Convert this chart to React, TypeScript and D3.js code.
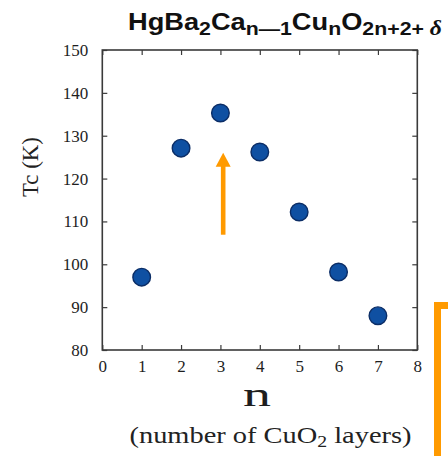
import { useRef, useEffect } from "react";
import * as d3 from "d3";

// number of CuO2 layers
const layers = [1, 2, 3, 4, 5, 6, 7];
// Tc in kelvin
const tcValues = [97, 127.1, 135.3, 126.2, 112.2, 98.2, 88];

const xTicks = [0, 1, 2, 3, 4, 5, 6, 7, 8];
const yTicks = [80, 90, 100, 110, 120, 130, 140, 150];

// arrow pointing at the optimum (n = 3)
const arrowN = 3.07;
const arrowFrom = 106.9;
const arrowTo = 126;

const App = () => {
    const svgRef = useRef(null);

    useEffect(() => {
        const width = 448;
        const height = 456;

        const svg = d3.select(svgRef.current);
        svg.selectAll("*").remove();
        svg.attr("width", width).attr("height", height);

        const x = d3.scaleLinear().domain([0, 8]).range([102.3, 417.3]);
        const y = d3.scaleLinear().domain([80, 150]).range([350, 50]);

        const axisColor = "#3a3a3a";
        const serif = "'Liberation Serif', 'Times New Roman', serif";

        const styleAxis = (g) => {
            g.select(".domain").remove();
            g.selectAll("line").attr("stroke", axisColor).attr("stroke-width", 1.2);
            g.selectAll("text")
                .attr("fill", "#1e1e1e")
                .style("font-family", serif)
                .style("font-size", "17px");
        };

        // frame
        svg.append("rect")
            .attr("x", x(0))
            .attr("y", y(150))
            .attr("width", x(8) - x(0))
            .attr("height", y(80) - y(150))
            .attr("fill", "none")
            .attr("stroke", axisColor)
            .attr("stroke-width", 1.6);

        svg.append("g")
            .attr("transform", `translate(0,${y(80)})`)
            .call(d3.axisBottom(x).tickValues(xTicks).tickSizeInner(-5).tickSizeOuter(0).tickPadding(10))
            .call(styleAxis);

        svg.append("g")
            .attr("transform", `translate(0,${y(150)})`)
            .call(d3.axisTop(x).tickValues(xTicks).tickSizeInner(-5).tickSizeOuter(0).tickFormat(() => ""))
            .call(styleAxis);

        svg.append("g")
            .attr("transform", `translate(${x(0)},0)`)
            .call(d3.axisLeft(y).tickValues(yTicks).tickSizeInner(-5).tickSizeOuter(0).tickPadding(14))
            .call(styleAxis);

        svg.append("g")
            .attr("transform", `translate(${x(8)},0)`)
            .call(d3.axisRight(y).tickValues(yTicks).tickSizeInner(-5).tickSizeOuter(0).tickFormat(() => ""))
            .call(styleAxis);

        // arrow
        const ax = x(arrowN);
        const tip = y(arrowTo);
        const headLen = 14;
        svg.append("rect")
            .attr("x", ax - 2.3)
            .attr("y", tip + headLen - 1)
            .attr("width", 4.6)
            .attr("height", y(arrowFrom) - tip - headLen + 1)
            .attr("fill", "#ff9a00");
        svg.append("path")
            .attr("d", `M${ax},${tip} L${ax + 7.5},${tip + headLen} L${ax - 7.5},${tip + headLen} Z`)
            .attr("fill", "#ff9a00");

        // points
        svg.append("g")
            .selectAll("circle")
            .data(layers.map((n, i) => ({ n, tc: tcValues[i] })))
            .join("circle")
            .attr("cx", (d) => x(d.n))
            .attr("cy", (d) => y(d.tc))
            .attr("r", 8.8)
            .attr("fill", "#0f50a2")
            .attr("stroke", "#0b2d66")
            .attr("stroke-width", 1.4);

        // axis titles
        svg.append("text")
            .attr("transform", "translate(38,167) rotate(-90)")
            .attr("text-anchor", "middle")
            .attr("textLength", 60)
            .attr("lengthAdjust", "spacingAndGlyphs")
            .style("font-family", serif)
            .style("font-size", "23px")
            .attr("fill", "#222")
            .text("Tc (K)");

        svg.append("text")
            .attr("x", 257)
            .attr("y", 406)
            .attr("text-anchor", "middle")
            .attr("textLength", 28)
            .attr("lengthAdjust", "spacingAndGlyphs")
            .style("font-family", serif)
            .style("font-size", "33px")
            .attr("fill", "#1e1e1e")
            .text("n");

        const sub = svg.append("text")
            .attr("x", 129.5)
            .attr("y", 443)
            .attr("textLength", 282)
            .attr("lengthAdjust", "spacingAndGlyphs")
            .style("font-family", serif)
            .style("font-size", "23px")
            .attr("fill", "#222");
        sub.append("tspan").text("(number of CuO");
        sub.append("tspan").attr("dy", 4).style("font-size", "16px").text("2");
        sub.append("tspan").attr("dy", -4).text(" layers)");

        // title
        const sans = "'Liberation Sans', Arial, sans-serif";
        const title = svg.append("text")
            .attr("x", 128)
            .attr("y", 29.5)
            .attr("textLength", 314)
            .attr("lengthAdjust", "spacingAndGlyphs")
            .style("font-family", sans)
            .style("font-weight", "bold")
            .style("font-size", "23px")
            .attr("fill", "#111");
        const parts = [
            ["HgBa", false],
            ["2", true],
            ["Ca", false],
            ["n\u20141", true],
            ["Cu", false],
            ["n", true],
            ["O", false],
            ["2n+2+ ", true],
        ];
        let low = false;
        parts.forEach(([t, isSub]) => {
            const dy = isSub && !low ? 5 : !isSub && low ? -5 : 0;
            low = isSub;
            title.append("tspan")
                .attr("dy", dy)
                .style("font-size", isSub ? "18px" : "23px")
                .text(t);
        });
        title.append("tspan")
            .style("font-family", serif)
            .style("font-style", "italic")
            .style("font-size", "20px")
            .text("\u03b4");

        // orange bracket on the right edge
        svg.append("path")
            .attr("d", `M437.5,${height} V305.5 H${width}`)
            .attr("fill", "none")
            .attr("stroke", "#ff9a00")
            .attr("stroke-width", 7);
    }, []);

    return (
        <svg
            ref={svgRef}
            style={{ position: "absolute", left: 0, top: 0, background: "#fff" }}
        ></svg>
    );
};

export default App;
